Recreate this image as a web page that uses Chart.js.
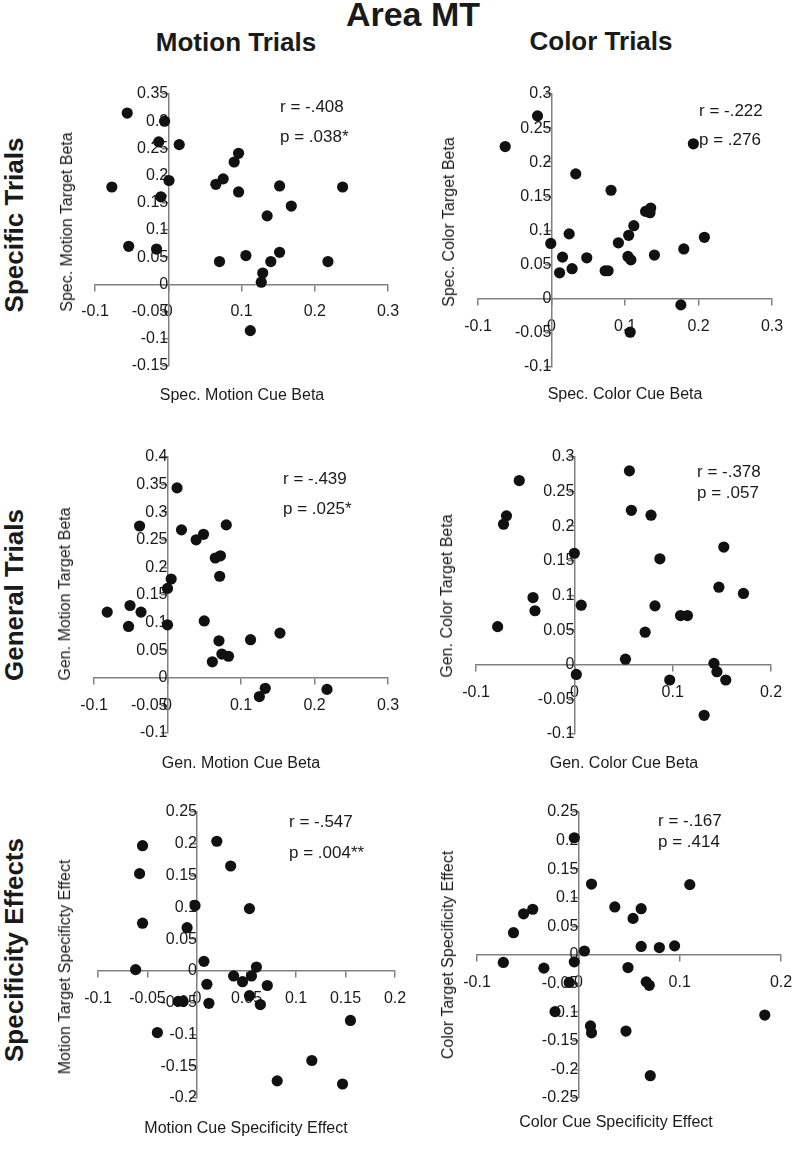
<!DOCTYPE html>
<html><head><meta charset="utf-8">
<script src="https://cdn.jsdelivr.net/npm/chart.js@4.4.1/dist/chart.umd.min.js"></script>
<style>
html,body{margin:0;padding:0;background:#fff;}
#fig{position:relative;width:798px;height:1153px;overflow:hidden;font-family:"Liberation Sans",Arial,sans-serif;color:#1a1a1a;}
.t{position:absolute;line-height:1;white-space:nowrap;transform:translate(-50%,-50%);}
.rot{transform:translate(-50%,-50%) rotate(-90deg);}
.b{font-weight:bold;}
.ann{position:absolute;line-height:1;white-space:nowrap;transform:translate(0,-50%);font-size:17px;}
.cv{position:absolute;}
</style></head><body><div id="fig"></div>
<script>
// ---- data ----
const specMotionCue    = [-0.056,-0.005,-0.013,0.015,-0.077,0.001,-0.010,-0.054,-0.016,0.096,0.090,0.075,0.065,0.096,0.152,0.238,0.168,0.135,0.070,0.106,0.152,0.140,0.129,0.127,0.218,0.112];
const specMotionTarget = [0.315,0.300,0.262,0.257,0.179,0.191,0.161,0.070,0.065,0.241,0.225,0.194,0.184,0.170,0.181,0.179,0.144,0.126,0.042,0.053,0.059,0.042,0.021,0.004,0.042,-0.085];

const specColorCue     = [-0.019,-0.063,0.193,0.033,0.081,-0.001,0.024,0.015,0.011,0.028,0.048,0.073,0.077,0.091,0.105,0.112,0.104,0.108,0.128,0.134,0.135,0.140,0.180,0.208,0.176,0.107];
const specColorTarget  = [0.268,0.223,0.227,0.183,0.159,0.081,0.095,0.061,0.038,0.044,0.060,0.041,0.041,0.082,0.093,0.107,0.062,0.057,0.128,0.126,0.133,0.064,0.073,0.090,-0.009,-0.049];

const genMotionCue     = [0.013,-0.038,0.019,0.039,0.049,0.080,0.065,0.072,0.071,0.005,0.000,-0.082,-0.051,-0.036,-0.053,0.000,0.050,0.070,0.113,0.153,0.074,0.083,0.061,0.133,0.125,0.217];
const genMotionTarget  = [0.344,0.275,0.268,0.250,0.260,0.277,0.217,0.221,0.184,0.179,0.162,0.119,0.131,0.119,0.093,0.096,0.103,0.067,0.069,0.081,0.043,0.039,0.029,-0.019,-0.034,-0.021];

const genColorCue      = [0.056,-0.056,-0.069,-0.072,0.058,0.078,0.000,0.087,0.152,-0.042,-0.040,0.007,-0.078,0.082,0.147,0.172,0.108,0.115,0.072,0.052,0.002,0.097,0.142,0.145,0.154,0.132];
const genColorTarget   = [0.280,0.266,0.215,0.203,0.223,0.216,0.161,0.153,0.170,0.097,0.078,0.086,0.055,0.085,0.112,0.103,0.071,0.071,0.047,0.008,-0.014,-0.022,0.002,-0.010,-0.022,-0.073];

const motionSpecCue    = [-0.055,-0.058,-0.055,-0.062,0.020,0.034,-0.002,0.053,-0.010,0.007,0.010,0.012,0.037,0.046,0.055,0.060,0.071,0.053,0.064,-0.019,-0.014,-0.040,0.155,0.116,0.081,0.147];
const motionSpecTarget = [0.197,0.153,0.075,0.002,0.204,0.165,0.103,0.098,0.068,0.015,-0.021,-0.051,-0.008,-0.017,-0.008,0.006,-0.023,-0.039,-0.053,-0.048,-0.048,-0.097,-0.078,-0.141,-0.173,-0.178];

const colorSpecCue     = [-0.004,0.013,0.110,0.036,0.062,0.054,-0.045,-0.054,-0.064,0.062,0.080,0.095,0.006,-0.074,-0.034,-0.004,0.049,-0.009,0.067,0.070,-0.023,0.012,0.013,0.047,0.071,0.184];
const colorSpecTarget  = [0.205,0.124,0.123,0.084,0.081,0.064,0.080,0.072,0.039,0.015,0.013,0.016,0.007,-0.013,-0.023,-0.012,-0.022,-0.048,-0.047,-0.053,-0.099,-0.124,-0.136,-0.133,-0.211,-0.105];

// axis ranges: [min, max, step]
const xRanges = [[-0.1,0.3,0.1],[-0.1,0.3,0.1],[-0.1,0.3,0.1],[-0.1,0.2,0.1],[-0.1,0.2,0.05],[-0.1,0.2,0.1]];
const yRanges = [[-0.15,0.35,0.05],[-0.1,0.3,0.05],[-0.1,0.4,0.05],[-0.1,0.3,0.05],[-0.2,0.25,0.05],[-0.25,0.25,0.05]];

const xTitles = ["Spec. Motion Cue Beta","Spec. Color Cue Beta","Gen. Motion Cue Beta","Gen. Color Cue Beta","Motion Cue Specificity Effect","Color Cue Specificity Effect"];
const yTitles = ["Spec. Motion Target Beta","Spec. Color Target Beta","Gen. Motion Target Beta","Gen. Color Target Beta","Motion Target Specificty Effect","Color Target Specificity Effect"];
const rTexts  = ["r = -.408","r = -.222","r = -.439","r = -.378","r = -.547","r = -.167"];
const pTexts  = ["p = .038*","p = .276","p = .025*","p = .057","p = .004**","p = .414"];

const xSeries = [specMotionCue,specColorCue,genMotionCue,genColorCue,motionSpecCue,colorSpecCue];
const ySeries = [specMotionTarget,specColorTarget,genMotionTarget,genColorTarget,motionSpecTarget,colorSpecTarget];

// ---- layout (pixels) ----
const areas = [ // left,right,top,bottom of plot area
  [95,388,94,366],[478,772,94,367],
  [94,388,457,733],[476,771,457,734],
  [98,395,812,1098],[477,781,812,1098]
];
const xTitlePos = [[242,395],[625,394],[241,763],[624,763],[246,1128],[616,1122]];
const yTitlePos = [[67,222],[449,222],[65,594],[447,596],[65,967],[448,955]];
const rPos = [[280,106],[699,110],[283,478],[697,471],[289,821],[658,820]];
const pPos = [[280,136],[699,139],[283,508],[697,492],[289,852],[658,841]];

const fig = document.getElementById('fig');
function addText(txt, x, y, cls, size) {
  const d = document.createElement('div');
  d.className = cls; d.textContent = txt;
  d.style.left = x + 'px'; d.style.top = y + 'px';
  if (size) d.style.fontSize = size + 'px';
  fig.appendChild(d);
}
addText("Area MT", 413, 14, "t b", 34);
addText("Motion Trials", 236, 42, "t b", 26);
addText("Color Trials", 601, 41, "t b", 26);
addText("Specific Trials", 14, 225, "t b rot", 26);
addText("General Trials", 14, 595, "t b rot", 26);
addText("Specificity Effects", 14, 950, "t b rot", 26);

const fmt = v => String(parseFloat(Number(v).toFixed(2)));
const FONT = {family:'"Liberation Sans", Arial, sans-serif', size:16};
const AX = '#808080';

for (let i = 0; i < 6; i++) {
  const [l, r, t, b] = areas[i];
  const pad = 26;
  const w = r - l + 2 * pad, h = b - t + 2 * pad;
  const c = document.createElement('canvas');
  c.className = 'cv';
  c.width = w; c.height = h;
  c.style.left = (l - pad) + 'px'; c.style.top = (t - pad) + 'px';
  c.style.width = w + 'px'; c.style.height = h + 'px';
  fig.appendChild(c);
  const pts = xSeries[i].map((x, k) => ({x: x, y: ySeries[i][k]}));
  new Chart(c, {
    type: 'scatter',
    data: {datasets: [{data: pts, backgroundColor: '#111', borderColor: '#111', borderWidth: 0,
      pointRadius: 5.6, pointHoverRadius: 5.6, clip: false}]},
    options: {
      responsive: false, animation: false, events: [],
      layout: {padding: pad},
      plugins: {legend: {display: false}, tooltip: {enabled: false}, title: {display: false}},
      scales: {
        x: {type: 'linear', position: {y: 0}, min: xRanges[i][0], max: xRanges[i][1],
          ticks: {stepSize: xRanges[i][2], callback: fmt, color: '#1a1a1a', font: FONT, padding: 12,
            maxRotation: 0, autoSkip: false},
          grid: {drawOnChartArea: false, drawTicks: true, tickLength: 6, color: AX, lineWidth: 1.5},
          border: {display: true, color: AX, width: 1.5}},
        y: {type: 'linear', position: {x: 0}, min: yRanges[i][0], max: yRanges[i][1],
          ticks: {stepSize: yRanges[i][2], callback: fmt, color: '#1a1a1a', font: FONT, padding: 5,
            autoSkip: false},
          grid: {drawOnChartArea: false, drawTicks: true, tickLength: 6, color: AX, lineWidth: 1.5},
          border: {display: true, color: AX, width: 1.5}}
      }
    }
  });
  addText(xTitles[i], xTitlePos[i][0], xTitlePos[i][1], "t", 16);
  addText(yTitles[i], yTitlePos[i][0], yTitlePos[i][1], "t rot", 16);
  addText(rTexts[i], rPos[i][0], rPos[i][1], "ann");
  addText(pTexts[i], pPos[i][0], pPos[i][1], "ann");
}
</script></body></html>
